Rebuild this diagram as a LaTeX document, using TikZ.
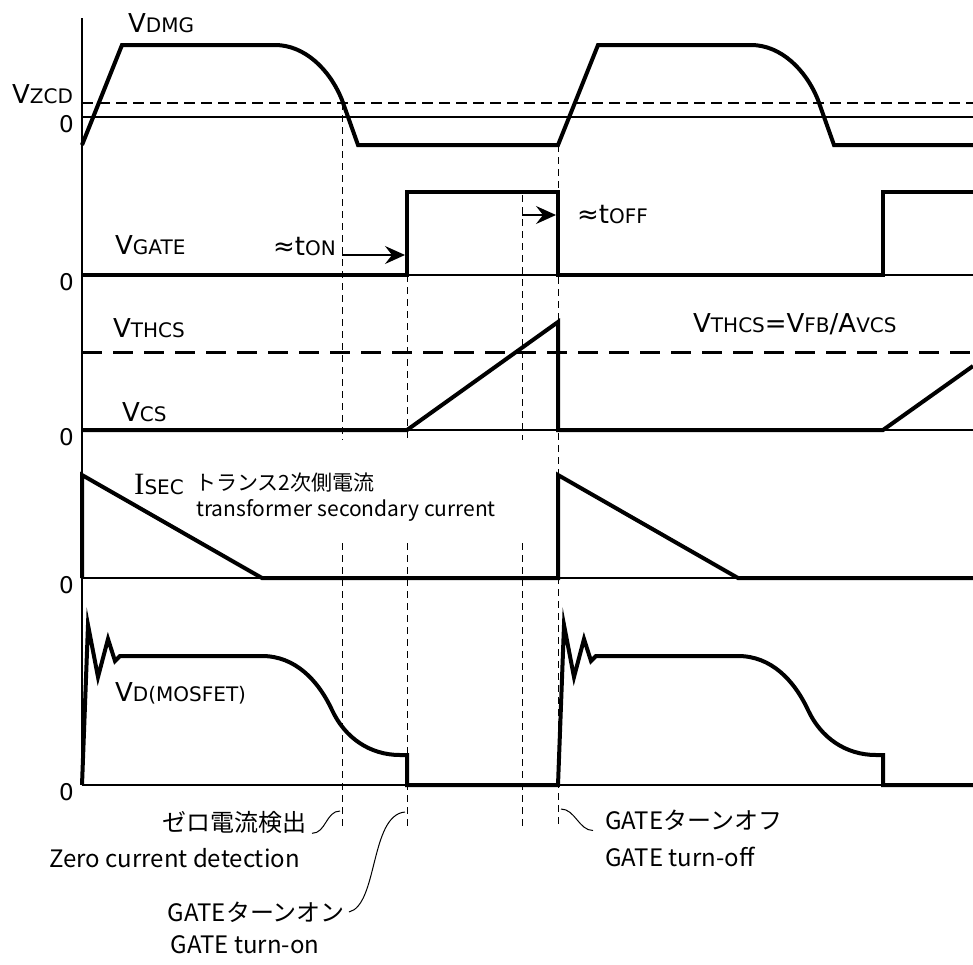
\documentclass[tikz,border=0pt]{standalone}
\usepackage{fontspec}
\setmainfont{Noto Sans CJK JP}
\newfontfamily\labfont{DejaVu Sans}
\newfontfamily\ifont{Liberation Serif}
\usetikzlibrary{arrows.meta, positioning}
\newcommand{\sml}[1]{{\fontsize{20}{22}\selectfont #1}}
\tikzset{
    wave/.style={line width=4pt, line join=miter},
    zero/.style={line width=1.3pt},
    axis/.style={line width=1.5pt},
    guide/.style={line width=1pt, dash pattern=on 7pt off 5pt},
    level/.style={line width=1.5pt, dash pattern=on 11pt off 6pt},
    thresh/.style={line width=3pt, dash pattern=on 20pt off 11pt},
    siglabel/.style={font=\labfont\fontsize{26}{28}\selectfont, inner sep=0pt, anchor=west},
    zerolabel/.style={font=\labfont\fontsize{23}{25}\selectfont, inner sep=0pt, anchor=east},
    note/.style={font=\fontsize{24}{26}\selectfont, inner sep=0pt},
    smallnote/.style={font=\fontsize{21}{23}\selectfont, inner sep=0pt, anchor=west},
    tarrow/.style={-{Stealth[length=20pt, width=18pt, inset=7pt]}, line width=1.3pt},
    leader/.style={line width=1pt},
}
\begin{document}
\begin{tikzpicture}[x=1pt, y=-1pt]
    \useasboundingbox (0,0) rectangle (973,964);

    % axis and zero lines
    \draw[axis] (82,18) -- (82,785);
    \foreach \y in {117,275,430,578,785}
        \draw[zero] (82,\y) -- (973,\y);
    \foreach \y/\n in {117/zdmg, 275/zgate, 430/zcs, 578/zsec, 785/zd}
        \node[zerolabel] (\n) at (74,\y+7) {0};

    % threshold levels
    \draw[level] (82,103) -- (973,103);
    \draw[thresh] (82,352) -- (973,352);

    % timing guides
    \draw[guide] (342,103) -- (342,440) (342,543) -- (342,828);
    \draw[guide] (407,275) -- (407,440) (407,543) -- (407,828);
    \draw[guide] (522,195) -- (522,440) (522,543) -- (522,828);
    \draw[guide] (558,145) -- (558,828);

    % V_DMG
    \draw[wave] (82,145) -- (122,45) -- (275,45) .. controls (305,45) and (330,70) .. (342,100)
        -- (358,145) -- (558,145) -- (598,45) -- (751,45) .. controls (781,45) and (806,70) .. (818,100)
        -- (834,145) -- (973,145);
    % V_GATE
    \draw[wave] (82,275) -- (407,275) -- (407,192) -- (558,192) -- (558,275) -- (883,275) -- (883,192) -- (973,192);
    % V_CS
    \draw[wave] (82,430) -- (407,430) -- (558,322) -- (558,430) -- (883,430) -- (973,366);
    % I_SEC
    \draw[wave] (82,578) -- (82,475) -- (262,578) -- (558,578) -- (558,475) -- (738,578) -- (973,578);
    % V_D(MOSFET)
    \draw[wave] (82,785) -- (88,625) -- (98,677) -- (108,639) -- (115,661) -- (120,656) -- (262,656)
        .. controls (295,656) and (318,680) .. (332,710) .. controls (345,738) and (370,755) .. (400,755)
        -- (407,755) -- (407,785) -- (558,785) -- (564,625) -- (574,677) -- (584,639) -- (591,661)
        -- (596,656) -- (738,656) .. controls (771,656) and (794,680) .. (808,710)
        .. controls (821,738) and (846,755) .. (876,755) -- (883,755) -- (883,785) -- (973,785);

    % signal labels
    \node[siglabel] (vdmg) at (128,23) {V\sml{DMG}};
    \node[siglabel] (vzcd) at (12,94) {V\sml{ZCD}};
    \node[siglabel] (vgate) at (115,245) {V\sml{GATE}};
    \node[siglabel] (vthcs) at (113,328) {V\sml{THCS}};
    \node[siglabel] (vcs) at (122,412) {V\sml{CS}};
    \node[siglabel] (vthcsdef) at (693,324) {V\sml{THCS}=V\sml{FB}/A\sml{VCS}};
    \node[siglabel] (isec) at (134,484) {{\ifont\fontsize{31}{32}\selectfont I}\sml{SEC}};
    \node[siglabel] (vdmos) at (115,693) {V\sml{D(MOSFET)}};
    \node[smallnote] (secj) at (195,483) {トランス2次側電流};
    \node[smallnote] (sece) at (196,510) {transformer secondary current};

    % on / off times
    \node[siglabel, anchor=east] (ton) at (336,247) {≈t\sml{ON}};
    \node[siglabel] (toff) at (577,215) {≈t\sml{OFF}};
    \coordinate (tonA) at (342,255);
    \coordinate (tonB) at (405,255);
    \coordinate (toffA) at (522,215);
    \coordinate (toffB) at (556,215);
    \draw[tarrow] (tonA) -- (tonB);
    \draw[tarrow] (toffA) -- (toffB);

    % event notes
    \node[note, anchor=east] (zcdj) at (307,822) {ゼロ電流検出};
    \node[note, anchor=east] (zcde) at (300,858) {Zero current detection};
    \node[note, anchor=east] (onj) at (345,912) {GATEターンオン};
    \node[note] (one) at (245,945) {GATE turn-on};
    \node[note, anchor=west] (offj) at (605,820) {GATEターンオフ};
    \node[note, anchor=west] (offe) at (605,857) {GATE turn-off};
    \coordinate (zcdtip) at (340,811);
    \coordinate (ontip) at (405,812);
    \coordinate (offtip) at (561,809);
    \draw[leader] ([xshift=5pt]zcdj.south east) .. controls +(14,0) and +(-14,0) .. (zcdtip);
    \draw[leader] ([xshift=4pt]onj.east) .. controls (378,905) and (370,815) .. (ontip);
    \draw[leader] (offtip) .. controls +(14,0) and +(-14,0) .. ([xshift=-12pt]offj.south west);
\end{tikzpicture}
\end{document}
